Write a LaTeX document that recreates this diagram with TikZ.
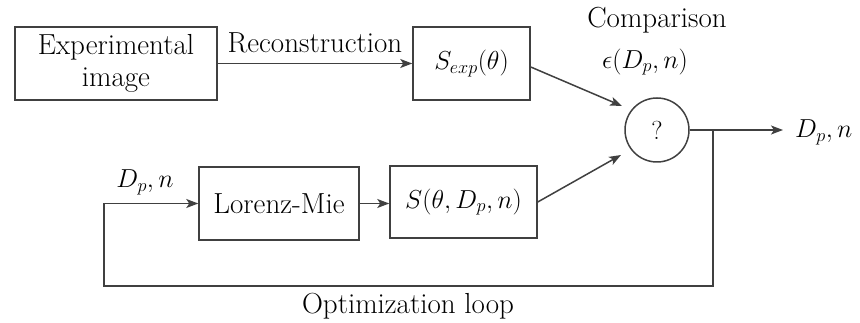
\RequirePackage{fix-cm}
\documentclass[tikz,border=0pt]{standalone}
\usetikzlibrary{arrows.meta}
\begin{document}
\begin{tikzpicture}[x=1pt,y=-1pt,
  every node/.style={font=\fontsize{29}{32}\selectfont, inner sep=0pt},
  mth/.style={font=\fontsize{26}{30}\selectfont},
  blk/.style={draw=black!75, line width=1.5pt, rectangle, align=center},
  conn/.style={draw=black!75, line width=1.5pt},
  arr/.style={conn, -{Stealth[length=12pt,width=9pt,inset=3pt]}}]
\useasboundingbox (0,0) rectangle (860,323);
\node[blk, minimum width=202pt, minimum height=73pt] (exp) at (116,63.5) {Experimental\\image};
\node[blk, mth, minimum width=117pt, minimum height=73pt] (sexp) at (471.5,63.5) {$S_{exp}(\theta)$};
\node[blk, minimum width=160pt, minimum height=73pt] (lm) at (279,203.5) {Lorenz-Mie};
\node[blk, mth, minimum width=147pt, minimum height=72pt] (s) at (463.5,202) {$S(\theta,D_p,n)$};
\node[draw=black!75, line width=1.5pt, circle, minimum size=64pt, font=\fontsize{26}{30}\selectfont] (cmp) at (657,130) {?};
\node (rec) at (315,43) {Reconstruction};
\node (comp) at (657,20) {Comparison};
\node[mth] (eps) at (645,62) {$\epsilon(D_p,n)$};
\node[mth, anchor=west] (out) at (795,132) {$D_p,n$};
\node[mth] (in) at (145,182) {$D_p,n$};
\node (opt) at (408,306) {Optimization loop};
\coordinate (t1) at (622,106);
\coordinate (t2) at (621,155);
\coordinate (tip) at (783,130);
\coordinate (br) at (713,130);
\coordinate (c1) at (713,286);
\coordinate (c2) at (104,286);
\coordinate (c3) at (104,203.5);
\draw[arr] (exp.east) -- (sexp.west);
\draw[arr] (sexp.east |- 0,67) -- (t1);
\draw[arr] (lm.east) -- (s.west |- lm.east);
\draw[arr] (s.east) -- (t2);
\draw[arr] (cmp.east) -- (tip);
\draw[arr] (br) -- (c1) -- (c2) -- (c3) -- (lm.west);
\end{tikzpicture}
\end{document}
